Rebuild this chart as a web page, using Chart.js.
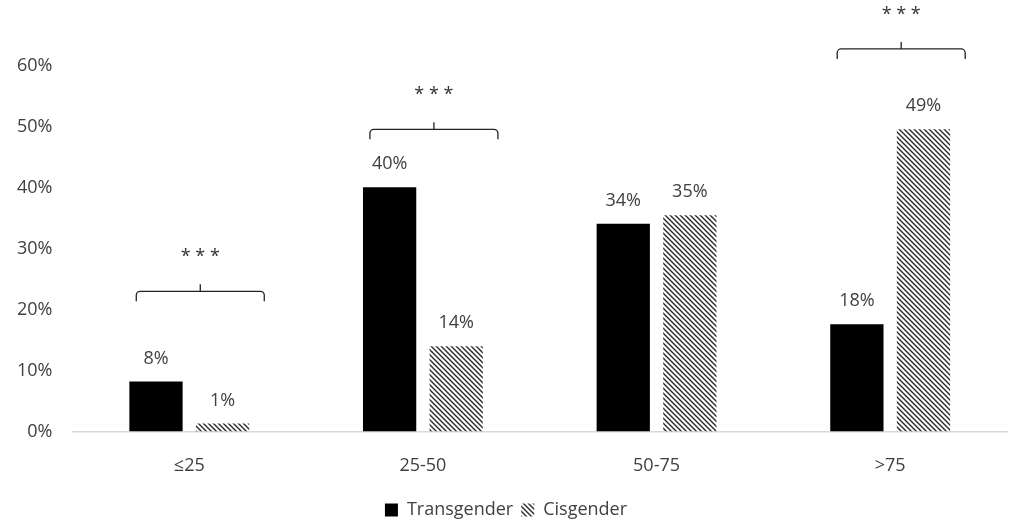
<!DOCTYPE html>
<html>
<head>
<meta charset="utf-8">
<script src="https://cdn.jsdelivr.net/npm/chart.js@4.4.1/dist/chart.umd.min.js"></script>
<style>
  html, body { margin: 0; padding: 0; background: #fff; }
  #wrap { width: 1011px; height: 521px; }
</style>
</head>
<body>
<div id="wrap"><canvas id="ageChart"></canvas></div>
<script>
const categories = ['≤25', '25-50', '50-75', '>75'];
const transgender = [8.2, 40.1, 34.1, 17.6];
const cisgender = [1.3, 14.0, 35.5, 49.6];
const transLabels = ['8%', '40%', '34%', '18%'];
const cisLabels = ['1%', '14%', '35%', '49%'];
// significance marks per category, with bracket level in % units
const sigMarks = ['* * *', '* * *', '', '* * *'];
const sigLevels = [23, 49.6, 0, 62.8];
const yTicks = [0, 10, 20, 30, 40, 50, 60];

function makeHatch() {
    const c = document.createElement('canvas');
    c.width = 5; c.height = 5;
    const g = c.getContext('2d');
    g.strokeStyle = '#2a2a2a';
    g.lineWidth = 1.4;
    g.beginPath();
    g.moveTo(-1, -1); g.lineTo(6, 6);
    g.moveTo(-1, 4); g.lineTo(1, 6);
    g.moveTo(4, -1); g.lineTo(6, 1);
    g.stroke();
    return g.createPattern(c, 'repeat');
}
const hatch = makeHatch();

const textColor = '#404040';
const fontFamily = '"Open Sans", sans-serif';

const annotations = {
    id: 'annotations',
    afterDraw(chart) {
        const ctx = chart.ctx;
        const y = chart.scales.y;
        const x = chart.scales.x;
        ctx.save();
        ctx.fillStyle = textColor;
        ctx.font = '18px ' + fontFamily;
        ctx.textAlign = 'center';
        ctx.textBaseline = 'middle';
        [[0, transLabels], [1, cisLabels]].forEach(function (pair) {
            const meta = chart.getDatasetMeta(pair[0]);
            meta.data.forEach(function (bar, i) {
                ctx.fillText(pair[1][i], bar.x, bar.y - 23);
            });
        });
        // brackets
        ctx.strokeStyle = '#222';
        ctx.lineWidth = 1.3;
        sigMarks.forEach(function (mark, i) {
            if (!mark) return;
            const cx = x.getPixelForValue(i);
            const by = y.getPixelForValue(sigLevels[i]);
            const left = cx - 53, right = cx + 75, mid = (left + right) / 2, r = 4;
            ctx.beginPath();
            ctx.moveTo(left, by + 10);
            ctx.arcTo(left, by, left + r, by, r);
            ctx.lineTo(right - r, by);
            ctx.arcTo(right, by, right, by + r, r);
            ctx.lineTo(right, by + 10);
            ctx.moveTo(mid, by);
            ctx.lineTo(mid, by - 7);
            ctx.stroke();
            ctx.fillStyle = '#333';
            ctx.font = '18px ' + fontFamily;
            ctx.fillText(mark, mid, by - 34);
        });
        ctx.restore();
    }
};

new Chart(document.getElementById('ageChart'), {
    type: 'bar',
    data: {
        labels: categories,
        datasets: [{
            label: 'Transgender',
            data: transgender,
            backgroundColor: '#000'
        }, {
            label: 'Cisgender',
            data: cisgender,
            backgroundColor: hatch
        }]
    },
    options: {
        responsive: true,
        maintainAspectRatio: false,
        animation: false,
        categoryPercentage: 0.57,
        barPercentage: 0.8,
        layout: { padding: { top: 66, right: 4, left: 5, bottom: -8 } },
        scales: {
            x: {
                grid: { display: false },
                border: { display: true, color: '#d9d9d9', width: 1.5 },
                ticks: { color: textColor, font: { family: fontFamily, size: 18 }, padding: 16 }
            },
            y: {
                min: 0,
                max: 60,
                afterBuildTicks(axis) { axis.ticks = yTicks.map(v => ({ value: v })); },
                grid: { display: false },
                border: { display: false },
                ticks: {
                    color: textColor,
                    font: { family: fontFamily, size: 18 },
                    padding: 12,
                    callback: v => v + '%'
                }
            }
        },
        plugins: {
            legend: {
                position: 'bottom',
                labels: {
                    color: textColor,
                    font: { family: fontFamily, size: 18 },
                    boxWidth: 13,
                    boxHeight: 13,
                    padding: 8
                }
            },
            tooltip: { enabled: false }
        }
    },
    plugins: [annotations]
});
</script>
</body>
</html>
